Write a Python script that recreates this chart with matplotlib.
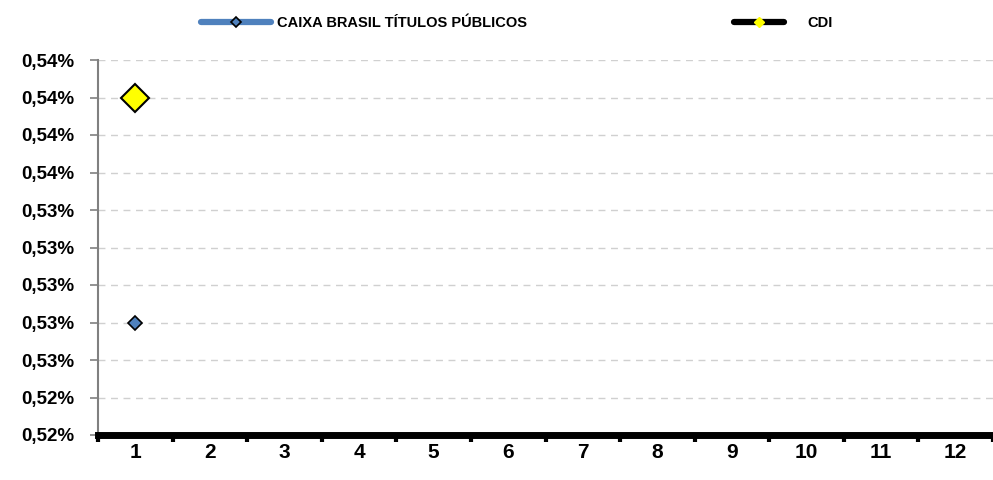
import matplotlib.pyplot as plt
from matplotlib.lines import Line2D
from matplotlib.ticker import FuncFormatter, MultipleLocator

# Monthly returns (%); only month 1 has data
months = list(range(1, 13))
caixa_x = [1]
caixa_y = [0.528]
cdi_x = [1]
cdi_y = [0.540]

plt.rcParams['font.family'] = ['Liberation Sans', 'DejaVu Sans']
plt.rcParams['font.weight'] = 'bold'

fig = plt.figure(figsize=(9.93, 4.8), dpi=100)
ax = fig.add_axes([98 / 993, 45 / 480, 895 / 993, 375 / 480])

ax.plot(caixa_x, caixa_y, color='#4F81BD', lw=4, marker='D', ms=7,
        mfc='#4F81BD', mec='black', mew=1.2, zorder=3)
ax.plot(cdi_x, cdi_y, color='black', lw=4, marker='D', ms=14,
        mfc='#FFFF00', mec='black', mew=1.5, zorder=3)

ax.set_xlim(0.5, 12.5)
ax.set_ylim(0.522, 0.542)
ax.yaxis.set_major_locator(MultipleLocator(0.002))
ax.yaxis.set_major_formatter(FuncFormatter(lambda v, p: f'{v:.2f}%'.replace('.', ',')))
ax.set_xticks(months)
ax.set_xticks([m + 0.5 for m in range(0, 13)], minor=True)
ax.tick_params(axis='x', which='major', length=0, pad=6, labelsize=15)
ax.tick_params(axis='x', which='minor', length=5, width=3, color='black', direction='out')
ax.tick_params(axis='y', length=6, width=1.2, color='#808080', labelsize=13.5, pad=11)
for lab in ax.get_xticklabels() + ax.get_yticklabels():
    lab.set_fontweight('bold')

ax.grid(axis='y', color='#D0D0D0', ls=(0, (5, 4)), lw=1)
ax.set_axisbelow(True)
for s in ['top', 'right']:
    ax.spines[s].set_visible(False)
ax.spines['left'].set_color('#808080')
ax.spines['left'].set_linewidth(1.5)
ax.spines['bottom'].set_color('black')
ax.spines['bottom'].set_linewidth(5)

h_caixa = Line2D([], [], color='#4F81BD', lw=4.5, marker='D', ms=5, mfc='#4F81BD',
                 mec='black', mew=1.2, solid_capstyle='round')
h_cdi = Line2D([], [], color='black', lw=4.5, marker='D', ms=5, mfc='#FFFF00',
               mec='#FFFF00', mew=1, solid_capstyle='round')
fig.legend([h_caixa], ['CAIXA BRASIL TÍTULOS PÚBLICOS'], loc='center left',
           bbox_to_anchor=(188 / 993, 0.952), frameon=False, handlelength=4.8,
           handletextpad=0.4, prop={'size': 10.5, 'weight': 'bold'})
fig.legend([h_cdi], ['CDI'], loc='center left',
           bbox_to_anchor=(721 / 993, 0.952), frameon=False, handlelength=3.4,
           handletextpad=1.6, prop={'size': 10.5, 'weight': 'bold'})

fig.savefig('out.png', dpi=100)
